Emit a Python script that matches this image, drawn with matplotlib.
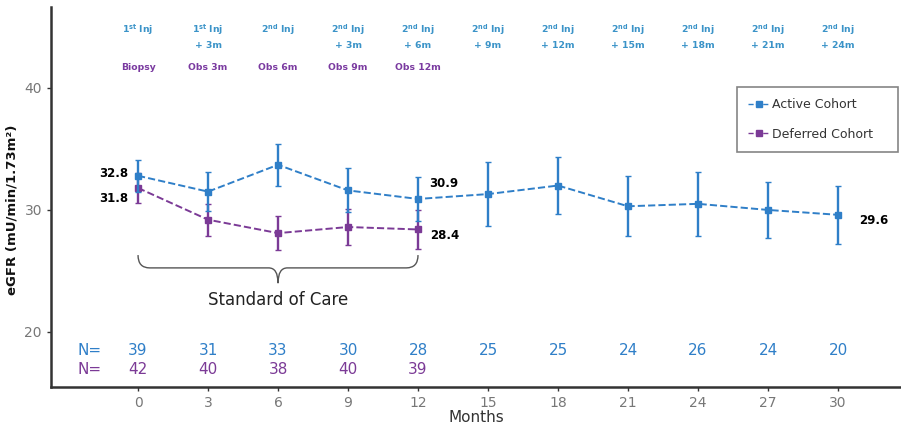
import matplotlib.pyplot as plt
from matplotlib.path import Path
from matplotlib.patches import PathPatch
from matplotlib.lines import Line2D

months = [0, 3, 6, 9, 12, 15, 18, 21, 24, 27, 30]
active = [32.8, 31.5, 33.7, 31.6, 30.9, 31.3, 32.0, 30.3, 30.5, 30.0, 29.6]
active_err = [1.3, 1.6, 1.7, 1.8, 1.8, 2.6, 2.3, 2.45, 2.6, 2.3, 2.4]
deferred_months = [0, 3, 6, 9, 12]
deferred = [31.8, 29.2, 28.1, 28.6, 28.4]
deferred_err = [1.2, 1.3, 1.4, 1.5, 1.6]
n_active = [39, 31, 33, 30, 28, 25, 25, 24, 26, 24, 20]
n_deferred = [42, 40, 38, 40, 39]

inj_line1 = [r'1$^{\mathbf{st}}$ Inj', r'1$^{\mathbf{st}}$ Inj'] + [r'2$^{\mathbf{nd}}$ Inj'] * 9
inj_line2 = ['', '+ 3m', '', '+ 3m', '+ 6m', '+ 9m', '+ 12m', '+ 15m', '+ 18m', '+ 21m', '+ 24m']
obs_labels = ['Biopsy', 'Obs 3m', 'Obs 6m', 'Obs 9m', 'Obs 12m']

blue = '#2f7fc8'
purple = '#7b3a96'
head_blue = '#3a93c8'
head_purple = '#7a3aa0'

fig = plt.figure(figsize=(9.01, 4.3), dpi=100)
ax = fig.add_axes([0.0566, 0.1, 0.9434, 0.884])

ax.errorbar(months, active, yerr=active_err, color=blue, ls='--', lw=1.4,
            marker='s', ms=5, elinewidth=1.7, capsize=2, zorder=3)
ax.errorbar(deferred_months, deferred, yerr=deferred_err, color=purple, ls='--', lw=1.4,
            marker='s', ms=5, elinewidth=1.7, capsize=2, zorder=2)

ax.set_xlim(-3.73, 32.7)
ax.set_ylim(15.49, 46.64)
ax.set_xticks(months)
ax.set_yticks([20, 30, 40])
for s in ['top', 'right']:
    ax.spines[s].set_visible(False)
for s in ['left', 'bottom']:
    ax.spines[s].set_linewidth(1.8)
    ax.spines[s].set_color('#333333')
ax.tick_params(labelsize=10, labelcolor='#777777', length=3, width=1, color='#333333')
ax.set_xlabel('Months', fontsize=11, color='#333333', labelpad=0)
ax.set_ylabel('eGFR (mU/min/1.73m²)', fontsize=9.5, fontweight='bold', color='#111111')
ax.yaxis.set_label_coords(-0.038, 0.465)

# value labels
ax.text(-0.4, 33.0, '32.8', ha='right', va='center', fontsize=8.5, fontweight='bold')
ax.text(-0.4, 30.9, '31.8', ha='right', va='center', fontsize=8.5, fontweight='bold')
ax.text(12.5, 32.2, '30.9', ha='left', va='center', fontsize=8.5, fontweight='bold')
ax.text(12.5, 27.9, '28.4', ha='left', va='center', fontsize=8.5, fontweight='bold')
ax.text(30.9, 29.1, '29.6', ha='left', va='center', fontsize=8.5, fontweight='bold')

# header labels
for m, l1, l2 in zip(months, inj_line1, inj_line2):
    ax.text(m, 44.75, l1, ha='center', va='center', fontsize=6.7, fontweight='bold', color=head_blue)
    if l2:
        ax.text(m, 43.5, l2, ha='center', va='center', fontsize=6.7, fontweight='bold', color=head_blue)
for m, l in zip(deferred_months, obs_labels):
    ax.text(m, 41.7, l, ha='center', va='center', fontsize=6.7, fontweight='bold', color=head_purple)

# N counts
ax.text(-2.06, 18.5, 'N=', ha='center', va='center', fontsize=11, color=blue)
ax.text(-2.06, 16.9, 'N=', ha='center', va='center', fontsize=11, color=purple)
for m, n in zip(months, n_active):
    ax.text(m, 18.5, str(n), ha='center', va='center', fontsize=11, color=blue)
for m, n in zip(deferred_months, n_deferred):
    ax.text(m, 16.9, str(n), ha='center', va='center', fontsize=11, color=purple)

# brace for standard of care
x0, x1 = deferred_months[0], deferred_months[-1]
xm = (x0 + x1) / 2
top, mid, tip = 26.3, 25.25, 24.0
verts = [(x0, top), (x0, mid), (x0 + 0.5, mid), (xm - 0.4, mid), (xm, mid), (xm, tip),
         (xm, mid), (xm + 0.4, mid), (x1 - 0.5, mid), (x1, mid), (x1, top)]
codes = [Path.MOVETO, Path.CURVE3, Path.CURVE3, Path.LINETO, Path.CURVE3, Path.CURVE3,
         Path.CURVE3, Path.CURVE3, Path.LINETO, Path.CURVE3, Path.CURVE3]
ax.add_patch(PathPatch(Path(verts, codes), fill=False, edgecolor='#555555', lw=1))
ax.text(xm, 22.6, 'Standard of Care', ha='center', va='center', fontsize=12, color='#222222')

handles = [Line2D([], [], color=blue, ls='--', lw=1, marker='s', ms=5),
           Line2D([], [], color=purple, ls='--', lw=1, marker='s', ms=5)]
leg = ax.legend(handles, ['Active Cohort', 'Deferred Cohort'], loc='upper left',
                bbox_to_anchor=(0.807, 0.624, 0.19, 0.165), mode='expand', fontsize=9,
                frameon=True, fancybox=False, edgecolor='#666666', handlelength=1.7,
                labelspacing=1.3, borderpad=0.9, handletextpad=0.2, borderaxespad=0)
leg.get_frame().set_linewidth(1.2)
for t in leg.get_texts():
    t.set_color('#333333')

fig.savefig('out.png', dpi=100)
